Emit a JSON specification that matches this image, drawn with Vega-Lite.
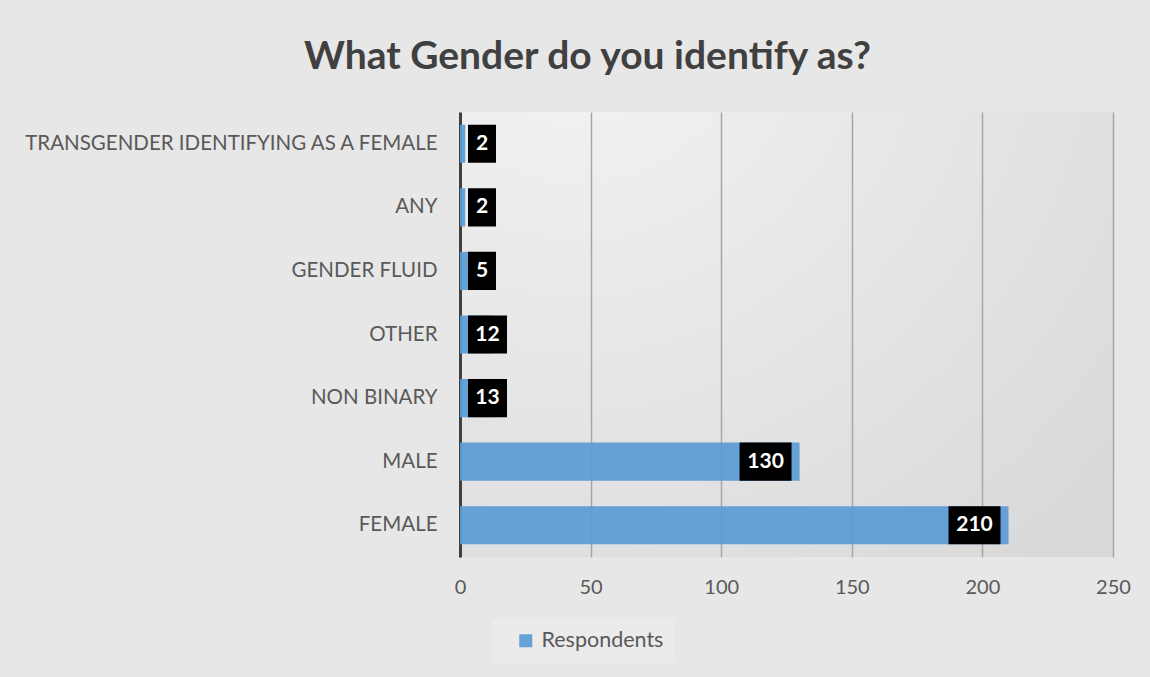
{
  "$schema": "https://vega.github.io/schema/vega-lite/v6.json",
  "width": 653,
  "height": 445,
  "autosize": {"type": "none"},
  "padding": {"left": 460, "top": 112, "right": 37, "bottom": 120},
  "background": "#e7e7e7",
  "config": {
    "view": {
      "stroke": null,
      "fill": {
        "gradient": "radial",
        "x1": 0.18, "y1": 0, "r1": 0,
        "x2": 0.18, "y2": 0, "r2": 1.1,
        "stops": [{"offset": 0, "color": "#f4f4f4"}, {"offset": 1, "color": "#d9d9d9"}]
      }
    },
    "font": "Lato"
  },
  "title": {
    "text": "What Gender do you identify as?",
    "fontSize": 39,
    "fontWeight": "bold",
    "color": "#404040",
    "font": "Lato",
    "anchor": "middle",
    "dx": -199,
    "baseline": "alphabetic",
    "offset": 4
  },
  "data": {
    "values": [
      {"gender": "TRANSGENDER IDENTIFYING AS A FEMALE", "n": 2, "series": "Respondents"},
      {"gender": "ANY", "n": 2, "series": "Respondents"},
      {"gender": "GENDER FLUID", "n": 5, "series": "Respondents"},
      {"gender": "OTHER", "n": 12, "series": "Respondents"},
      {"gender": "NON BINARY", "n": 13, "series": "Respondents"},
      {"gender": "MALE", "n": 130, "series": "Respondents"},
      {"gender": "FEMALE", "n": 210, "series": "Respondents"}
    ]
  },
  "encoding": {
    "y": {
      "field": "gender",
      "type": "nominal",
      "sort": null,
      "scale": {"paddingInner": 0.4, "paddingOuter": 0.2},
      "axis": {
        "title": null,
        "domainColor": "#404040",
        "domainWidth": 3,
        "ticks": false,
        "grid": false,
        "labelFontSize": 20.5,
        "labelColor": "#595959",
        "labelPadding": 23,
        "labelLimit": 600,
        "labelFont": "Lato"
      }
    }
  },
  "layer": [
    {
      "mark": {"type": "bar", "opacity": 0.92},
      "encoding": {
        "x": {
          "field": "n",
          "type": "quantitative",
          "scale": {"domain": [0, 250], "nice": false},
          "axis": {
            "title": null,
            "values": [0, 50, 100, 150, 200, 250],
            "grid": true,
            "gridColor": "#a6a6a6",
            "gridWidth": 1.5,
            "domain": false,
            "ticks": false,
            "labelFlush": false,
            "labelOverlap": false,
            "labelFontSize": 20,
            "labelColor": "#595959",
            "labelPadding": 20,
            "labelFont": "Lato"
          }
        },
        "color": {
          "field": "series",
          "type": "nominal",
          "scale": {"range": ["#5B9BD5"]},
          "legend": {
            "title": null,
            "orient": "none",
            "legendX": 32,
            "legendY": 507,
            "fillColor": "#ebebeb",
            "padding": 11,
            "symbolType": "square",
            "symbolSize": 169,
            "symbolOffset": 12,
            "symbolStrokeWidth": 0,
            "labelFontSize": 21.5,
            "labelColor": "#595959",
            "labelFont": "Lato",
            "labelOffset": 5
          }
        }
      }
    },
    {
      "transform": [{"filter": "datum.n < 10"}],
      "mark": {"type": "rect", "fill": "#000000", "xOffset": 8, "x2Offset": 36},
      "encoding": {"x": {"datum": 0, "type": "quantitative"}, "x2": {"datum": 0}}
    },
    {
      "transform": [{"filter": "datum.n < 10"}],
      "mark": {"type": "text", "color": "#ffffff", "fontWeight": "bold", "fontSize": 21, "font": "Lato", "align": "center", "baseline": "middle", "dx": 22},
      "encoding": {"x": {"datum": 0, "type": "quantitative"}, "text": {"field": "n", "type": "quantitative"}}
    },
    {
      "transform": [{"filter": "datum.n >= 10 && datum.n < 100"}],
      "mark": {"type": "rect", "fill": "#000000", "xOffset": 8, "x2Offset": 47},
      "encoding": {"x": {"datum": 0, "type": "quantitative"}, "x2": {"datum": 0}}
    },
    {
      "transform": [{"filter": "datum.n >= 10 && datum.n < 100"}],
      "mark": {"type": "text", "color": "#ffffff", "fontWeight": "bold", "fontSize": 21, "font": "Lato", "align": "center", "baseline": "middle", "dx": 27.5},
      "encoding": {"x": {"datum": 0, "type": "quantitative"}, "text": {"field": "n", "type": "quantitative"}}
    },
    {
      "transform": [{"filter": "datum.n >= 100"}],
      "mark": {"type": "rect", "fill": "#000000", "xOffset": -60, "x2Offset": -8},
      "encoding": {"x": {"field": "n", "type": "quantitative"}, "x2": {"field": "n"}}
    },
    {
      "transform": [{"filter": "datum.n >= 100"}],
      "mark": {"type": "text", "color": "#ffffff", "fontWeight": "bold", "fontSize": 21, "font": "Lato", "align": "center", "baseline": "middle", "dx": -34},
      "encoding": {"x": {"field": "n", "type": "quantitative"}, "text": {"field": "n", "type": "quantitative"}}
    }
  ]
}
